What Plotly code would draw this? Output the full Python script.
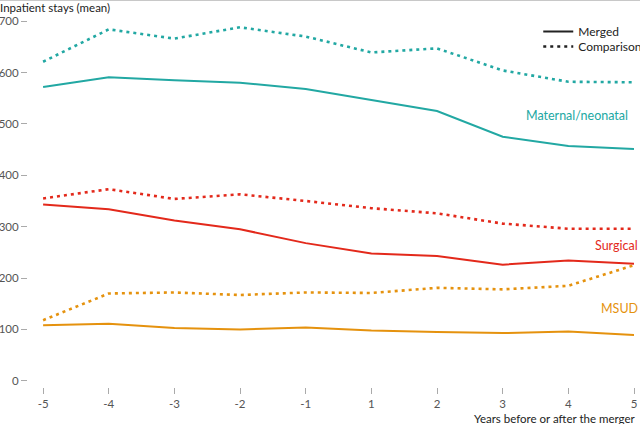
import plotly.graph_objects as go

years = ["-5", "-4", "-3", "-2", "-1", "1", "2", "3", "4", "5"]

maternal_merged = [572, 591, 585, 580, 568, 546, 525, 475, 457, 451]
maternal_comp = [621, 684, 666, 688, 670, 639, 647, 604, 582, 581]
surgical_merged = [343, 334, 312, 295, 268, 248, 243, 226, 234, 228]
surgical_comp = [355, 373, 354, 363, 350, 336, 326, 306, 296, 296]
msud_merged = [108, 111, 103, 100, 104, 98, 95, 93, 96, 89]
msud_comp = [118, 170, 172, 167, 172, 171, 181, 178, 185, 225]

teal = "#22A8A3"
red = "#E3291B"
orange = "#E5920E"
font = "Lato"

fig = go.Figure()

series = [
    (maternal_merged, maternal_comp, teal),
    (surgical_merged, surgical_comp, red),
    (msud_merged, msud_comp, orange),
]
for merged, comp, col in series:
    fig.add_trace(go.Scatter(x=years, y=comp, mode="lines", showlegend=False,
                             line=dict(color=col, width=2.6, dash="3px,4px")))
    fig.add_trace(go.Scatter(x=years, y=merged, mode="lines", showlegend=False,
                             line=dict(color=col, width=2)))

# key: one legend per entry so the spacing can be set
fig.add_trace(go.Scatter(x=[None], y=[None], mode="lines", name="Merged",
                         legend="legend", line=dict(color="#222", width=2)))
fig.add_trace(go.Scatter(x=[None], y=[None], mode="lines", name="Comparison",
                         legend="legend2", line=dict(color="#222", width=2.6, dash="3px,4px")))

labels = [("Maternal/neonatal", -4, 517, teal), ("Surgical", 6, 263, red), ("MSUD", 6, 140, orange)]
for txt, xs, yv, col in labels:
    fig.add_annotation(x=1, y=yv, xref="paper", yref="y", xshift=xs, text=txt,
                       showarrow=False, xanchor="right", yanchor="middle",
                       font=dict(family=font, size=12.5, color=col))

fig.add_annotation(x=0, y=1, xref="paper", yref="paper", xshift=-30, yshift=17,
                   text="Inpatient stays (mean)", showarrow=False,
                   xanchor="left", yanchor="top",
                   font=dict(family=font, size=11.5, color="#222"))
fig.add_annotation(x=1, y=0, xref="paper", yref="paper", xshift=4, yshift=-31,
                   text="Years before or after the merger", showarrow=False,
                   xanchor="right", yanchor="middle",
                   font=dict(family=font, size=11.5, color="#222"))

fig.add_shape(type="line", xref="paper", yref="paper", x0=-0.1, x1=1.1, y0=1.043, y1=1.043,
              line=dict(color="#c8c8c8", width=2))

leg = dict(xanchor="left", yanchor="top", font=dict(family=font, size=12, color="#222"),
           itemwidth=30, bgcolor="rgba(0,0,0,0)")
fig.update_layout(
    width=640, height=424,
    margin=dict(l=28, r=6, t=16, b=37, autoexpand=False),
    plot_bgcolor="white", paper_bgcolor="white",
    font=dict(family=font, size=11.5, color="#555"),
    legend=dict(x=0.842, y=0.997, **leg),
    legend2=dict(x=0.842, y=0.957, **leg),
    xaxis=dict(type="category", categoryorder="array", categoryarray=years,
               range=[-0.23, 9], showgrid=False, zeroline=False, showline=False,
               automargin=False,
               ticks="outside", ticklen=6, tickcolor="#aaa", tickwidth=1),
    yaxis=dict(range=[-12, 710], tickvals=[0, 100, 200, 300, 400, 500, 600, 700],
               showgrid=False, zeroline=False, showline=False, automargin=False,
               ticks="outside", ticklen=6, tickcolor="#aaa", tickwidth=1),
)

# page has a default 8px body margin; drop it so the figure sits at the corner
fig.write_html("out.html", config={"displayModeBar": False},
               post_script="document.body.style.margin = '0';")
